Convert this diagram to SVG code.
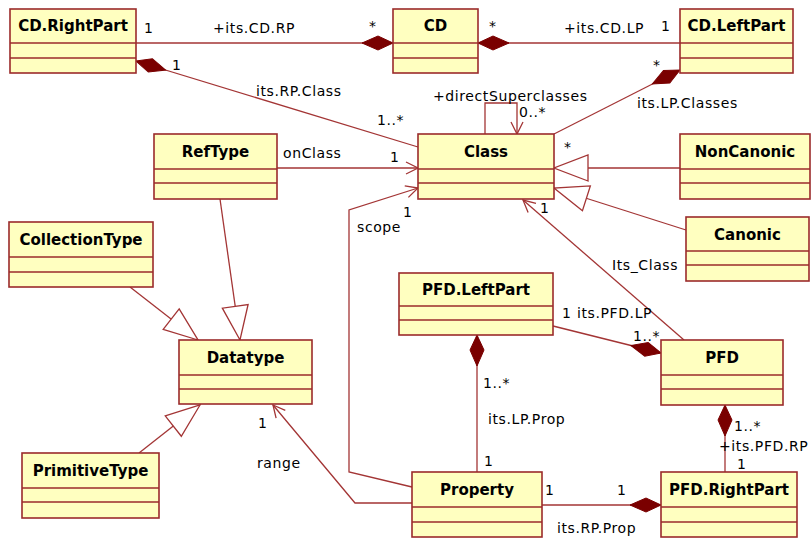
<svg xmlns="http://www.w3.org/2000/svg" width="811" height="539" viewBox="0 0 811 539">
<style>
.box{fill:#FFFFC0;stroke:#9B2B2B;stroke-width:1.6}
.sep{stroke:#9B2B2B;stroke-width:1.6}
.nm{font-family:"DejaVu Sans",Verdana,sans-serif;font-weight:bold;font-size:15px;fill:#000;text-anchor:middle}
.lb{font-family:"DejaVu Sans",Verdana,sans-serif;font-size:14px;letter-spacing:0.6px;fill:#000}
.ln{fill:none;stroke:#A33535;stroke-width:1.3}
</style>
<defs>
<marker id="dia" markerUnits="userSpaceOnUse" markerWidth="32" markerHeight="16" refX="0" refY="7" orient="auto" overflow="visible">
<path d="M0,7 L15,0 L31,7 L15,14 z" fill="#7A0000" stroke="#7A0000" stroke-width="1"/>
</marker>
<marker id="tri" markerUnits="userSpaceOnUse" markerWidth="36" markerHeight="28" refX="34" refY="13" orient="auto" overflow="visible">
<path d="M0,0 L34,13 L0,26 z" fill="#FFFFFF" stroke="#A33535" stroke-width="1.3"/>
</marker>
<marker id="arr" markerUnits="userSpaceOnUse" markerWidth="14" markerHeight="14" refX="12" refY="6" orient="auto" overflow="visible">
<path d="M0,0 L12,6 L0,12" fill="none" stroke="#A33535" stroke-width="1.3"/>
</marker>
</defs>

<g id="connectors">
<path class="ln" d="M393,43 L136,43" marker-start="url(#dia)"/>
<path class="ln" d="M478,43 L680,43" marker-start="url(#dia)"/>
<path class="ln" d="M136,61 L418,147" marker-start="url(#dia)"/>
<path class="ln" d="M680,70 L554,134" marker-start="url(#dia)"/>
<path class="ln" d="M661,353 L553,326" marker-start="url(#dia)"/>
<path class="ln" d="M477,335 V472" marker-start="url(#dia)"/>
<path class="ln" d="M725,405 V472" marker-start="url(#dia)"/>
<path class="ln" d="M661,505 H542" marker-start="url(#dia)"/>
<path class="ln" d="M485,134 V103 H517 V134" marker-end="url(#arr)"/>
<path class="ln" d="M277,168 H418" marker-end="url(#arr)"/>
<path class="ln" d="M412,487 L349,472 V210 L418,188" marker-end="url(#arr)"/>
<path class="ln" d="M412,503 L355,503 L273,405" marker-end="url(#arr)"/>
<path class="ln" d="M684,340 L523,200" marker-end="url(#arr)"/>
<path class="ln" d="M680,168 H554" marker-end="url(#tri)"/>
<path class="ln" d="M686,230 L554,188" marker-end="url(#tri)"/>
<path class="ln" d="M220,199 L240,340" marker-end="url(#tri)"/>
<path class="ln" d="M130,287 L198,340" marker-end="url(#tri)"/>
<path class="ln" d="M139,453 L200,405" marker-end="url(#tri)"/>
</g>

<g id="labels">
<text class="lb" x="144" y="33">1</text>
<text class="lb" x="213" y="33">+its.CD.RP</text>
<text class="lb" x="369" y="31">*</text>
<text class="lb" x="489" y="31">*</text>
<text class="lb" x="564" y="33">+its.CD.LP</text>
<text class="lb" x="661" y="31">1</text>
<text class="lb" x="172" y="70">1</text>
<text class="lb" x="256" y="96">its.RP.Class</text>
<text class="lb" x="377" y="125">1..*</text>
<text class="lb" x="433" y="101">+directSuperclasses</text>
<text class="lb" x="519" y="117">0..*</text>
<text class="lb" x="653" y="70">*</text>
<text class="lb" x="637" y="108">its.LP.Classes</text>
<text class="lb" x="564" y="152">*</text>
<text class="lb" x="283" y="158">onClass</text>
<text class="lb" x="390" y="162">1</text>
<text class="lb" x="403" y="217">1</text>
<text class="lb" x="357" y="232">scope</text>
<text class="lb" x="540" y="213">1</text>
<text class="lb" x="612" y="270">Its_Class</text>
<text class="lb" x="562" y="318">1</text>
<text class="lb" x="577" y="318">its.PFD.LP</text>
<text class="lb" x="633" y="341">1..*</text>
<text class="lb" x="483" y="388">1..*</text>
<text class="lb" x="488" y="424">its.LP.Prop</text>
<text class="lb" x="484" y="466">1</text>
<text class="lb" x="258" y="428">1</text>
<text class="lb" x="257" y="468">range</text>
<text class="lb" x="734" y="431">1..*</text>
<text class="lb" x="719" y="451">+its.PFD.RP</text>
<text class="lb" x="737" y="469">1</text>
<text class="lb" x="545" y="495">1</text>
<text class="lb" x="617" y="495">1</text>
<text class="lb" x="557" y="533">its.RP.Prop</text>
</g>

<g id="CD.RightPart"><rect class="box" x="10" y="9" width="126" height="64"/><line class="sep" x1="10" y1="43" x2="136" y2="43"/><line class="sep" x1="10" y1="58" x2="136" y2="58"/><text class="nm" x="73" y="31">CD.RightPart</text></g>
<g id="CD"><rect class="box" x="393" y="9" width="85" height="64"/><line class="sep" x1="393" y1="43" x2="478" y2="43"/><line class="sep" x1="393" y1="58" x2="478" y2="58"/><text class="nm" x="435.5" y="31">CD</text></g>
<g id="CD.LeftPart"><rect class="box" x="680" y="9" width="113" height="64"/><line class="sep" x1="680" y1="43" x2="793" y2="43"/><line class="sep" x1="680" y1="58" x2="793" y2="58"/><text class="nm" x="736.5" y="31">CD.LeftPart</text></g>
<g id="Class"><rect class="box" x="418" y="134" width="136" height="65"/><line class="sep" x1="418" y1="169" x2="554" y2="169"/><line class="sep" x1="418" y1="183" x2="554" y2="183"/><text class="nm" x="486" y="157">Class</text></g>
<g id="RefType"><rect class="box" x="154" y="134" width="123" height="65"/><line class="sep" x1="154" y1="169" x2="277" y2="169"/><line class="sep" x1="154" y1="183" x2="277" y2="183"/><text class="nm" x="215.5" y="157">RefType</text></g>
<g id="NonCanonic"><rect class="box" x="680" y="134" width="130" height="65"/><line class="sep" x1="680" y1="169" x2="810" y2="169"/><line class="sep" x1="680" y1="183" x2="810" y2="183"/><text class="nm" x="745" y="157">NonCanonic</text></g>
<g id="Canonic"><rect class="box" x="686" y="217" width="123" height="64"/><line class="sep" x1="686" y1="251" x2="809" y2="251"/><line class="sep" x1="686" y1="265" x2="809" y2="265"/><text class="nm" x="747.5" y="240">Canonic</text></g>
<g id="CollectionType"><rect class="box" x="9" y="222" width="144" height="65"/><line class="sep" x1="9" y1="257" x2="153" y2="257"/><line class="sep" x1="9" y1="272" x2="153" y2="272"/><text class="nm" x="81" y="245">CollectionType</text></g>
<g id="Datatype"><rect class="box" x="179" y="340" width="133" height="64"/><line class="sep" x1="179" y1="375" x2="312" y2="375"/><line class="sep" x1="179" y1="389" x2="312" y2="389"/><text class="nm" x="245.5" y="363">Datatype</text></g>
<g id="PrimitiveType"><rect class="box" x="22" y="453" width="137" height="65"/><line class="sep" x1="22" y1="488" x2="159" y2="488"/><line class="sep" x1="22" y1="502" x2="159" y2="502"/><text class="nm" x="90.5" y="476">PrimitiveType</text></g>
<g id="PFD.LeftPart"><rect class="box" x="399" y="273" width="154" height="62"/><line class="sep" x1="399" y1="306" x2="553" y2="306"/><line class="sep" x1="399" y1="320" x2="553" y2="320"/><text class="nm" x="476" y="295">PFD.LeftPart</text></g>
<g id="PFD"><rect class="box" x="661" y="340" width="122" height="65"/><line class="sep" x1="661" y1="375" x2="783" y2="375"/><line class="sep" x1="661" y1="389" x2="783" y2="389"/><text class="nm" x="722" y="363">PFD</text></g>
<g id="Property"><rect class="box" x="412" y="472" width="130" height="65"/><line class="sep" x1="412" y1="507" x2="542" y2="507"/><line class="sep" x1="412" y1="522" x2="542" y2="522"/><text class="nm" x="477" y="495">Property</text></g>
<g id="PFD.RightPart"><rect class="box" x="661" y="472" width="136" height="65"/><line class="sep" x1="661" y1="507" x2="797" y2="507"/><line class="sep" x1="661" y1="522" x2="797" y2="522"/><text class="nm" x="729" y="495">PFD.RightPart</text></g>
</svg>
